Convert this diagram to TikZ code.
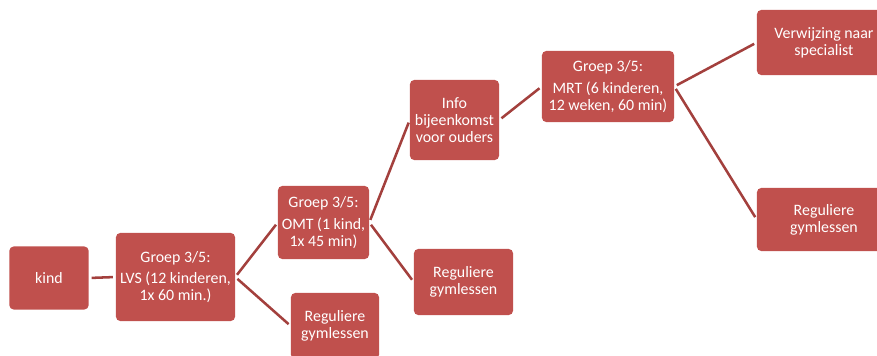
\documentclass[tikz,border=0pt]{standalone}
\usepackage{fontspec}
\setmainfont{Carlito}
\usetikzlibrary{positioning}
\definecolor{boxred}{HTML}{C0504D}
\definecolor{linkred}{HTML}{A3403D}

\begin{document}
\begin{tikzpicture}[x=0.025cm,y=-0.025cm,
    stap/.style={draw=none,fill=boxred,rounded corners=3pt,text=white,align=center,
                 font=\fontsize{11.3}{12.2}\selectfont,inner sep=1pt},
    link/.style={draw=linkred,line width=1.8pt,shorten <=2pt,shorten >=2pt}]
\useasboundingbox (0,0) rectangle (877,356);

\node[stap,minimum width=1.98cm,minimum height=1.575cm] (kind) at (49,278) {kind};
\node[stap,minimum width=2.975cm,minimum height=2.2cm] (lvs) at (175.5,277) {Groep 3/5:\\[3pt]LVS (12 kinderen,\\1x 60 min.)};
\node[stap,minimum width=2.275cm,minimum height=1.825cm] (omt) at (323.5,222.5) {Groep 3/5:\\[3pt]OMT (1 kind,\\1x 45 min)};
\node[stap,minimum width=2.2cm,minimum height=1.65cm] (gym1) at (335,326) {Reguliere\\gymlessen};
\node[stap,minimum width=2.225cm,minimum height=2cm] (info) at (454.5,120) {Info\\bijeenkomst\\voor ouders};
\node[stap,minimum width=2.475cm,minimum height=1.65cm] (gym2) at (463.5,282) {Reguliere\\gymlessen};
\node[stap,minimum width=3.3cm,minimum height=1.775cm] (mrt) at (608,86.5) {Groep 3/5:\\[3pt]MRT (6 kinderen,\\12 weken, 60 min)};
\node[stap,minimum width=3.35cm,minimum height=1.625cm] (verw) at (824,42.5) {Verwijzing naar\\specialist};
\node[stap,minimum width=3.35cm,minimum height=1.575cm] (gym3) at (824,219.5) {Reguliere\\gymlessen};

\path[link]
    (kind.east) edge (lvs.west)
    (lvs.east) edge (omt.west)
    (lvs.east) edge (gym1.west)
    (omt.east) edge (info.west)
    (omt.east) edge (gym2.west)
    (info.east) edge (mrt.west)
    (mrt.east) edge (verw.west)
    (mrt.east) edge (gym3.west);
\end{tikzpicture}
\end{document}
